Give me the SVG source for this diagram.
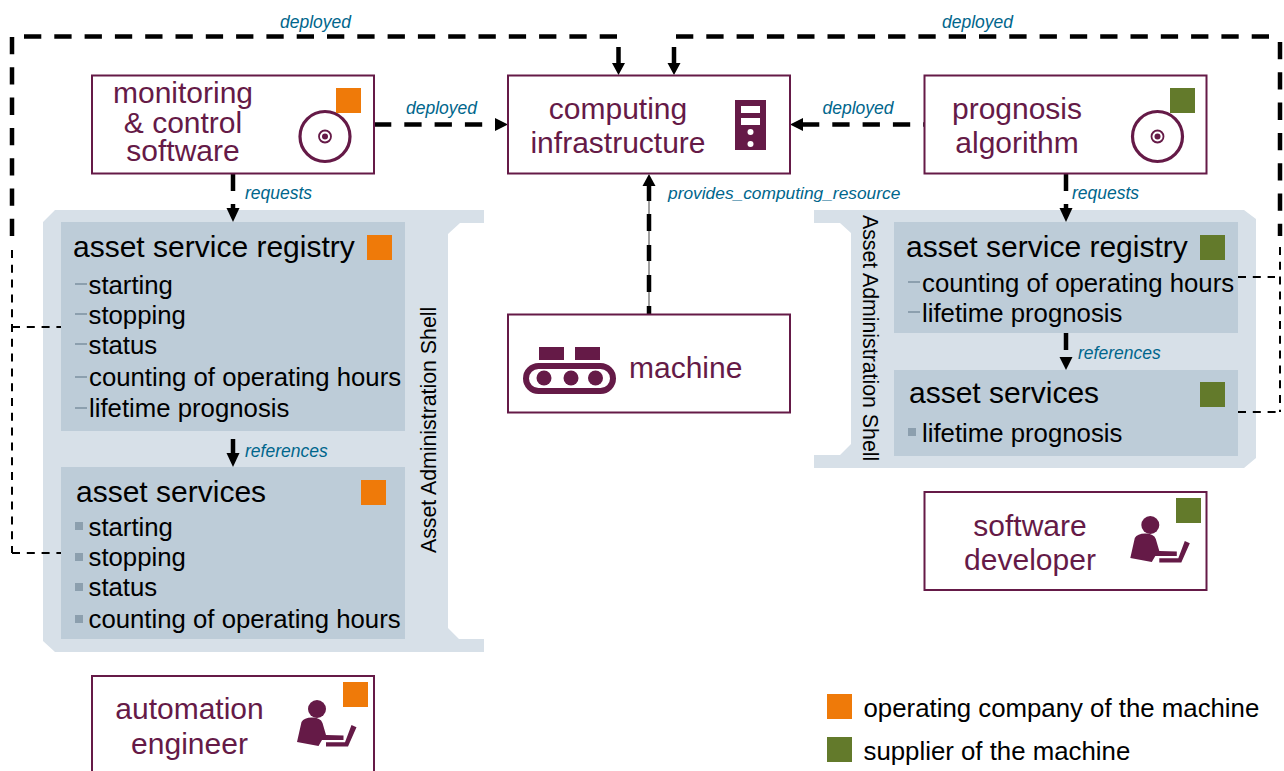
<svg xmlns="http://www.w3.org/2000/svg" width="1284" height="771" viewBox="0 0 1284 771">
<style>
text{font-family:"Liberation Sans",Arial,sans-serif}
.box{fill:#fff;stroke:#651a47;stroke-width:2}
.t{font-size:30px;fill:#651a47}
.m{text-anchor:middle}
.h{font-size:30px;fill:#000}
.li{font-size:25.75px;fill:#000}
.aas{font-size:21.3px;fill:#000}
.lab{font-size:17.5px;font-style:italic;fill:#00668c}
.shell{fill:#d7e0e8}
.panel{fill:#bdccd8}
.or{fill:#ef7a09}
.gr{fill:#637a2b}
.pu{fill:#651a47}
.bul{fill:#8c9fae}
.thick{fill:none;stroke:#000;stroke-width:4.500;stroke-dasharray:17.3 13}
.solid{fill:none;stroke:#000;stroke-width:4.500}
.thin{fill:none;stroke:#000;stroke-width:2;stroke-dasharray:8 6.8}
.gline{stroke:#808080;stroke-width:1.500;fill:none}
</style>
<defs>
<g id="disc"><circle r="25" fill="none" stroke="#651a47" stroke-width="3.200"/><circle r="6" fill="none" stroke="#651a47" stroke-width="1.800"/><circle r="3" fill="#651a47"/></g>
<g id="person" fill="#651a47"><circle cx="317" cy="709" r="9"/><path d="M297 742L301.500 722Q304 717.500 312 717.500Q320.500 717.500 322.500 723L326 735L343.500 735.500L343.500 740L322 740L318.500 746Z"/><path d="M326 742.300L345 742.300L351.500 725L356.500 727.300L348 746.500L326 746.500Z"/></g>
</defs>
<g id="shell-left"><path class="shell" d="M43 222L55 210H484V223H460L448 234V628L459 639H484V652H55L43 641Z"/>
<text class="aas" transform="translate(436 553) rotate(-90)">Asset Administration Shell</text></g>
<g id="shell-right"><path class="shell" d="M814 210H1244L1256 219V458L1244 468H814V455H840L851 444V233L840 223H814Z"/>
<text class="aas" transform="translate(863 215) rotate(90)">Asset Administration Shell</text></g>

<g id="connectors">
<line class="thick" x1="24" y1="36.500" x2="617" y2="36.500"/>
<line class="thick" x1="12" y1="37" x2="12" y2="236"/>
<path class="solid" d="M618.500 47V64M674 47V64"/>
<path d="M612 63H625L618.500 75ZM667.500 63H680.500L674 75Z"/>
<line class="thick" x1="676" y1="36.500" x2="1269" y2="36.500"/>
<line class="thick" x1="1280" y1="42" x2="1280" y2="236"/>
<path class="thin" d="M12 250V553M12 327H61M12 553H61"/>
<path class="thin" d="M1280 247V412M1238 277H1275M1238 412H1280"/>
<line class="thick" x1="374" y1="124.500" x2="495" y2="124.500"/>
<path d="M495 118L508 124.500L495 131Z"/>
<line class="thick" x1="802" y1="124.500" x2="924" y2="124.500"/>
<path d="M803 118L790 124.500L803 131Z"/>
<path class="solid" d="M233 174V191M233 204V210"/>
<path d="M226.500 208H239.500L233 222Z"/>
<path class="solid" d="M1066 174V191M1066 204V210"/>
<path d="M1059.500 208H1072.500L1066 222Z"/>
<path class="solid" d="M233 439V454"/>
<path d="M226.500 453H239.500L233 467Z"/>
<path class="solid" d="M1066 333V350"/>
<path d="M1059.500 357H1072.500L1066 370Z"/>
<line class="gline" x1="649" y1="176" x2="649" y2="314"/>
<path class="solid" d="M649 186V201M649 214V231M649 245V261M649 275V292M649 306V314"/>
<path d="M642.500 186H655.500L649 174Z"/>
<text class="lab" x="280" y="28">deployed</text>
<text class="lab" x="942" y="28">deployed</text>
<text class="lab" x="406" y="114">deployed</text>
<text class="lab" x="822.500" y="114">deployed</text>
<text class="lab" x="245" y="199">requests</text>
<text class="lab" x="1072" y="199">requests</text>
<text class="lab" x="245" y="456.500">references</text>
<text class="lab" x="1078" y="358.500">references</text>
<text class="lab" x="668" y="199" style="font-size:17.35px">provides_computing_resource</text>
</g>

<g id="node-monitoring"><rect class="box" x="92" y="75.500" width="282" height="98"/>
<text class="t m" x="183" y="103">monitoring</text><text class="t m" x="183" y="133">&amp; control</text><text class="t m" x="183" y="161">software</text>
<use href="#disc" x="325" y="136.500"/><rect class="or" x="336" y="88" width="25" height="25"/></g>

<g id="node-computing"><rect class="box" x="508" y="75.500" width="282" height="98"/>
<text class="t m" x="618" y="119">computing</text><text class="t m" x="618" y="153">infrastructure</text>
<rect class="pu" x="735" y="100" width="31" height="50"/><rect x="741" y="106" width="19" height="7" fill="#fff"/><rect x="741" y="118" width="19" height="7" fill="#fff"/><circle cx="750.500" cy="132" r="3" fill="#fff"/><circle cx="750.500" cy="144" r="3" fill="#fff"/></g>

<g id="node-prognosis"><rect class="box" x="924.500" y="75.500" width="282" height="98"/>
<text class="t m" x="1017" y="119">prognosis</text><text class="t m" x="1017" y="153">algorithm</text>
<use href="#disc" x="1157.500" y="136.500"/><rect class="gr" x="1170" y="88" width="25" height="25"/></g>

<g id="node-machine"><rect class="box" x="508" y="314.500" width="282" height="98"/>
<text class="t" x="629" y="378">machine</text>
<rect class="pu" x="539" y="347" width="25" height="13"/><rect class="pu" x="575" y="347" width="25" height="13"/>
<rect x="526" y="366" width="87" height="25" rx="12.500" fill="none" stroke="#651a47" stroke-width="6"/>
<circle class="pu" cx="544" cy="378" r="7.500"/><circle class="pu" cx="571" cy="378" r="7.500"/><circle class="pu" cx="595.500" cy="378" r="7.500"/></g>

<g id="node-registry-left"><rect class="panel" x="61" y="222" width="344" height="209"/>
<text class="h" x="73" y="257">asset service registry</text><rect class="or" x="367" y="235" width="25" height="25"/>
<rect class="bul" x="75" y="283" width="12" height="2"/><text class="li" x="88.500" y="294">starting</text>
<rect class="bul" x="75" y="313" width="12" height="2"/><text class="li" x="88.500" y="324">stopping</text>
<rect class="bul" x="75" y="343" width="12" height="2"/><text class="li" x="88.500" y="354">status</text>
<rect class="bul" x="75" y="376" width="12" height="2"/><text class="li" x="89" y="386">counting of operating hours</text>
<rect class="bul" x="75" y="407" width="12" height="2"/><text class="li" x="89" y="417">lifetime prognosis</text></g>

<g id="node-services-left"><rect class="panel" x="61" y="467" width="344" height="172"/>
<text class="h" x="76" y="502">asset services</text><rect class="or" x="361" y="480" width="25" height="25"/>
<rect class="bul" x="75" y="522" width="8" height="8"/><text class="li" x="88.500" y="536">starting</text>
<rect class="bul" x="75" y="553" width="8" height="8"/><text class="li" x="88.500" y="566">stopping</text>
<rect class="bul" x="75" y="583" width="8" height="8"/><text class="li" x="88.500" y="596">status</text>
<rect class="bul" x="75" y="615" width="8" height="8"/><text class="li" x="88.500" y="628">counting of operating hours</text></g>

<g id="node-registry-right"><rect class="panel" x="894" y="222" width="344" height="111"/>
<text class="h" x="906" y="257">asset service registry</text><rect class="gr" x="1200" y="235" width="25" height="25"/>
<rect class="bul" x="908" y="281" width="12" height="2"/><text class="li" x="922" y="292">counting of operating hours</text>
<rect class="bul" x="908" y="311" width="12" height="2"/><text class="li" x="922" y="322">lifetime prognosis</text></g>

<g id="node-services-right"><rect class="panel" x="894" y="370" width="344" height="86"/>
<text class="h" x="909" y="403">asset services</text><rect class="gr" x="1200" y="382" width="25" height="25"/>
<rect class="bul" x="908" y="428" width="8" height="8"/><text class="li" x="922" y="442">lifetime prognosis</text></g>

<g id="node-developer"><rect class="box" x="924.500" y="492" width="282" height="98"/>
<text class="t m" x="1030" y="536">software</text><text class="t m" x="1030" y="570">developer</text>
<use href="#person" x="833.300" y="-184"/><rect class="gr" x="1176" y="498" width="25" height="25"/></g>

<g id="node-engineer"><rect class="box" x="92" y="676" width="282" height="110"/>
<text class="t m" x="189.500" y="719">automation</text><text class="t m" x="189.500" y="754">engineer</text>
<use href="#person"/><rect class="or" x="343" y="682" width="25" height="25"/></g>

<g id="legend"><rect class="or" x="827" y="694" width="25" height="25"/><text class="li" x="863.500" y="717" style="font-size:25.8px">operating company of the machine</text>
<rect class="gr" x="827" y="737" width="25" height="25"/><text class="li" x="863.500" y="760" style="font-size:25.8px">supplier of the machine</text></g>
</svg>
